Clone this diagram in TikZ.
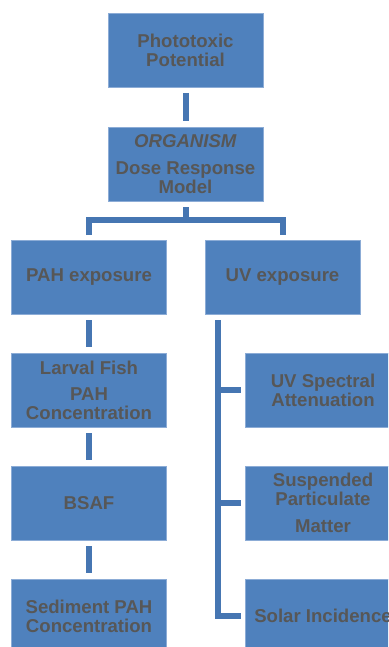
\documentclass[tikz,border=0pt]{standalone}
\usepackage{fontspec}
\setmainfont{Liberation Sans}
\usepackage{tikz}
\usetikzlibrary{positioning}
\definecolor{boxblue}{RGB}{79,129,189}
\definecolor{edgeblue}{RGB}{140,172,214}
\definecolor{linkblue}{RGB}{70,118,178}
\definecolor{textgrey}{RGB}{87,87,87}

\begin{document}
\begin{tikzpicture}[
        x=1pt, y=1pt,
        box/.style={rectangle, draw=edgeblue, line width=0.8pt, fill=boxblue, minimum width=155pt, minimum height=74pt, outer sep=0pt, align=center, text=textgrey, font=\bfseries\fontsize{18.6}{19}\selectfont},
        link/.style={draw=linkblue, line width=6pt},
        gap/.style={shorten >=6pt, shorten <=6pt}
    ]
        \useasboundingbox (0,0) rectangle (388,-647);
        \clip (0,0) rectangle (388,-647);
        % Top
        \node[box] (photo) at (185.5,-50) {Phototoxic\\Potential};
        \node[box, below=40pt of photo] (model) {\textit{ORGANISM}\\[8pt]Dose Response\\Model};
        % Exposure
        \node[box] (pah) at (89,-277) {PAH exposure};
        \node[box] (uv) at (282.5,-277) {UV exposure};
        % PAH chain
        \node[box, below=39pt of pah] (larval) {Larval Fish\\[7pt]PAH\\Concentration};
        \node[box, below=39pt of larval] (bsaf) {BSAF};
        \node[box, below=39pt of bsaf] (sed) {Sediment PAH\\Concentration};
        % UV factors
        \node[box, right=79pt of larval] (spectral) {UV Spectral\\Attenuation};
        \node[box, right=79pt of bsaf] (spm) {Suspended\\Particulate\\[8pt]Matter};
        \node[box, right=79pt of sed] (solar) {Solar Incidence};
        % Links
        \coordinate (fork) at (185.5,-220);
        \coordinate (trunk) at (218,-320);
        \draw[link, gap] (photo) -- (model);
        \draw[link] ([yshift=-6pt]model.south) -- (fork);
        \draw[link] ([yshift=5pt]pah.north) |- (fork) -| ([yshift=5pt]uv.north);
        \draw[link, gap] (pah) -- (larval);
        \draw[link, gap] (larval) -- (bsaf);
        \draw[link, gap] (bsaf) -- (sed);
        \draw[link] (trunk) |- ([xshift=-5pt]solar.west);
        \draw[link] (trunk |- spectral.west) -- ([xshift=-5pt]spectral.west);
        \draw[link] (trunk |- spm.west) -- ([xshift=-5pt]spm.west);
    \end{tikzpicture}
\end{document}
